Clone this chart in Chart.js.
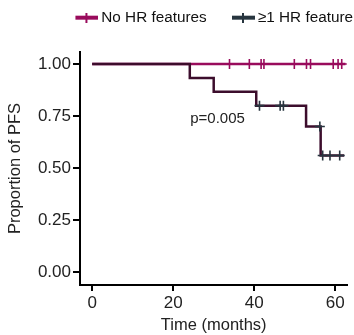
<!DOCTYPE html>
<html>
<head>
<meta charset="utf-8">
<script src="https://cdn.jsdelivr.net/npm/chart.js@4/dist/chart.umd.min.js"></script>
<style>
html,body{margin:0;padding:0;background:#fff;}
#wrap{width:354px;height:335px;position:relative;}
</style>
</head>
<body>
<div id="wrap"><canvas id="c" width="354" height="335"></canvas></div>
<script>
// Series labels
const seriesNames = ["No HR features", "\u22651 HR feature"];
// No HR features: survival steps (time, proportion)
const noHrTimes = [0, 62.5];
const noHrSurv = [1.0, 1.0];
// No HR features: censor times (all at 1.0)
const noHrCensorTimes = [33.9, 38.8, 41.7, 42.4, 49.9, 52.9, 53.9, 59.5, 60.7, 61.6];
const noHrCensorSurv = [1, 1, 1, 1, 1, 1, 1, 1, 1, 1];
// >=1 HR feature: survival steps
const hrTimes = [0, 24.1, 30, 40.5, 52.8, 56.4, 62.2];
const hrSurv = [1.0, 0.933, 0.867, 0.80, 0.70, 0.56, 0.56];
// >=1 HR feature: censor marks
const hrCensorTimes = [41.3, 46.4, 47.2, 56.2, 56.9, 58.7, 61.1];
const hrCensorSurv = [0.80, 0.80, 0.80, 0.70, 0.56, 0.56, 0.56];
// Ticks
const xTicks = [0, 20, 40, 60];
const yTicks = [0, 0.25, 0.5, 0.75, 1.0];
const pLabel = "p=0.005";

const MAROON = "#990b5c";
const DARKLINE = "#3c0d2c";
const SLATE = "#27353f";
const FONT = "'Liberation Sans', Arial, sans-serif";

Chart.defaults.font.family = FONT;
Chart.defaults.font.size = 17;

function pts(xs, ys){ return xs.map((x,i)=>({x:x, y:ys[i]})); }

function legendIcon(color){
  const c = document.createElement('canvas');
  c.width = 43; c.height = 10;
  const g = c.getContext('2d');
  g.fillStyle = color;
  g.fillRect(20, 3, 23, 4);
  g.fillRect(30, 0, 2, 10);
  return c;
}

const legendFix = {
  id: 'legendFix',
  beforeInit(chart){
    const lg = chart.legend;
    if (lg){
      const origFit = lg.fit;
      lg.fit = function(){
        origFit.call(this);
        this.height = 52;
      };
      const origDraw = lg.draw;
      lg.draw = function(){
        const ctx = this.ctx;
        ctx.save();
        ctx.translate(9, 0);
        origDraw.apply(this, arguments);
        ctx.restore();
      };
    }
  }
};

const pText = {
  id: 'pText',
  afterDatasetsDraw(chart){
    const ctx = chart.ctx;
    const xs = chart.scales.x, ys = chart.scales.y;
    ctx.save();
    ctx.font = "15px " + FONT;
    ctx.fillStyle = "#222";
    ctx.textAlign = "left";
    ctx.textBaseline = "middle";
    ctx.fillText(pLabel, xs.getPixelForValue(24.2), ys.getPixelForValue(0.735));
    ctx.restore();
  }
};

new Chart(document.getElementById('c'), {
  type: 'line',
  data: {
    datasets: [
      {label: seriesNames[1], data: pts(hrTimes, hrSurv), borderColor: DARKLINE, borderWidth: 2.5,
       stepped: 'before', pointRadius: 0, fill: false, order: 1},
      {label: seriesNames[0], data: pts(noHrTimes, noHrSurv), borderColor: MAROON, borderWidth: 2.5,
       stepped: 'before', pointRadius: 0, fill: false, order: 2},
      {label: 'c0', data: pts(noHrCensorTimes, noHrCensorSurv), showLine: false, pointStyle: 'cross',
       pointRadius: 5, pointBorderWidth: 1.6, pointBorderColor: MAROON, borderColor: MAROON, order: 0},
      {label: 'c1', data: pts(hrCensorTimes, hrCensorSurv), showLine: false, pointStyle: 'cross',
       pointRadius: 5, pointBorderWidth: 1.6, pointBorderColor: SLATE, borderColor: SLATE, order: 0}
    ]
  },
  options: {
    responsive: false,
    animation: false,
    layout: {padding: {left: 0, right: 0, top: 0, bottom: 0}},
    plugins: {
      tooltip: {enabled: false},
      legend: {
        display: true,
        position: 'top',
        align: 'end',
        labels: {
          font: {family: FONT, size: 15.3},
          color: '#111',
          usePointStyle: true,
          pointStyleWidth: 33.5,
          padding: 10,
          generateLabels: (chart) => [
            {text: seriesNames[0], pointStyle: legendIcon(MAROON), fillStyle: MAROON, strokeStyle: MAROON, lineWidth: 0, datasetIndex: 1, fontColor: '#111'},
            {text: seriesNames[1], pointStyle: legendIcon(SLATE), fillStyle: SLATE, strokeStyle: SLATE, lineWidth: 0, datasetIndex: 0, fontColor: '#111'}
          ]
        }
      }
    },
    scales: {
      x: {
        type: 'linear', min: -3, max: 63,
        afterBuildTicks: (s) => { s.ticks = xTicks.map(v => ({value: v})); },
        afterFit: (s) => { s.height = 50; },
        grid: {display: true, drawOnChartArea: false, drawTicks: true, tickLength: 6, lineWidth: 2, color: '#000'},
        border: {display: true, width: 2, color: '#000'},
        ticks: {font: {family: FONT, size: 17}, color: '#222', padding: 2, maxRotation: 0, autoSkip: false},
        title: {display: true, text: 'Time (months)', font: {family: FONT, size: 16.5}, color: '#222', padding: {top: 0, bottom: 0}}
      },
      y: {
        type: 'linear', min: -0.0625, max: 1.058,
        afterBuildTicks: (s) => { s.ticks = yTicks.map(v => ({value: v})); },
        afterFit: (s) => { s.width = 80; },
        grid: {display: true, drawOnChartArea: false, drawTicks: true, tickLength: 7, lineWidth: 2, color: '#000'},
        border: {display: true, width: 2, color: '#000'},
        ticks: {font: {family: FONT, size: 17}, color: '#222', padding: 2, callback: (v) => Number(v).toFixed(2)},
        title: {display: true, text: 'Proportion of PFS', font: {family: FONT, size: 16.5}, color: '#222', padding: {top: 6, bottom: 0}}
      }
    }
  },
  plugins: [legendFix, pText]
});
</script>
</body>
</html>
